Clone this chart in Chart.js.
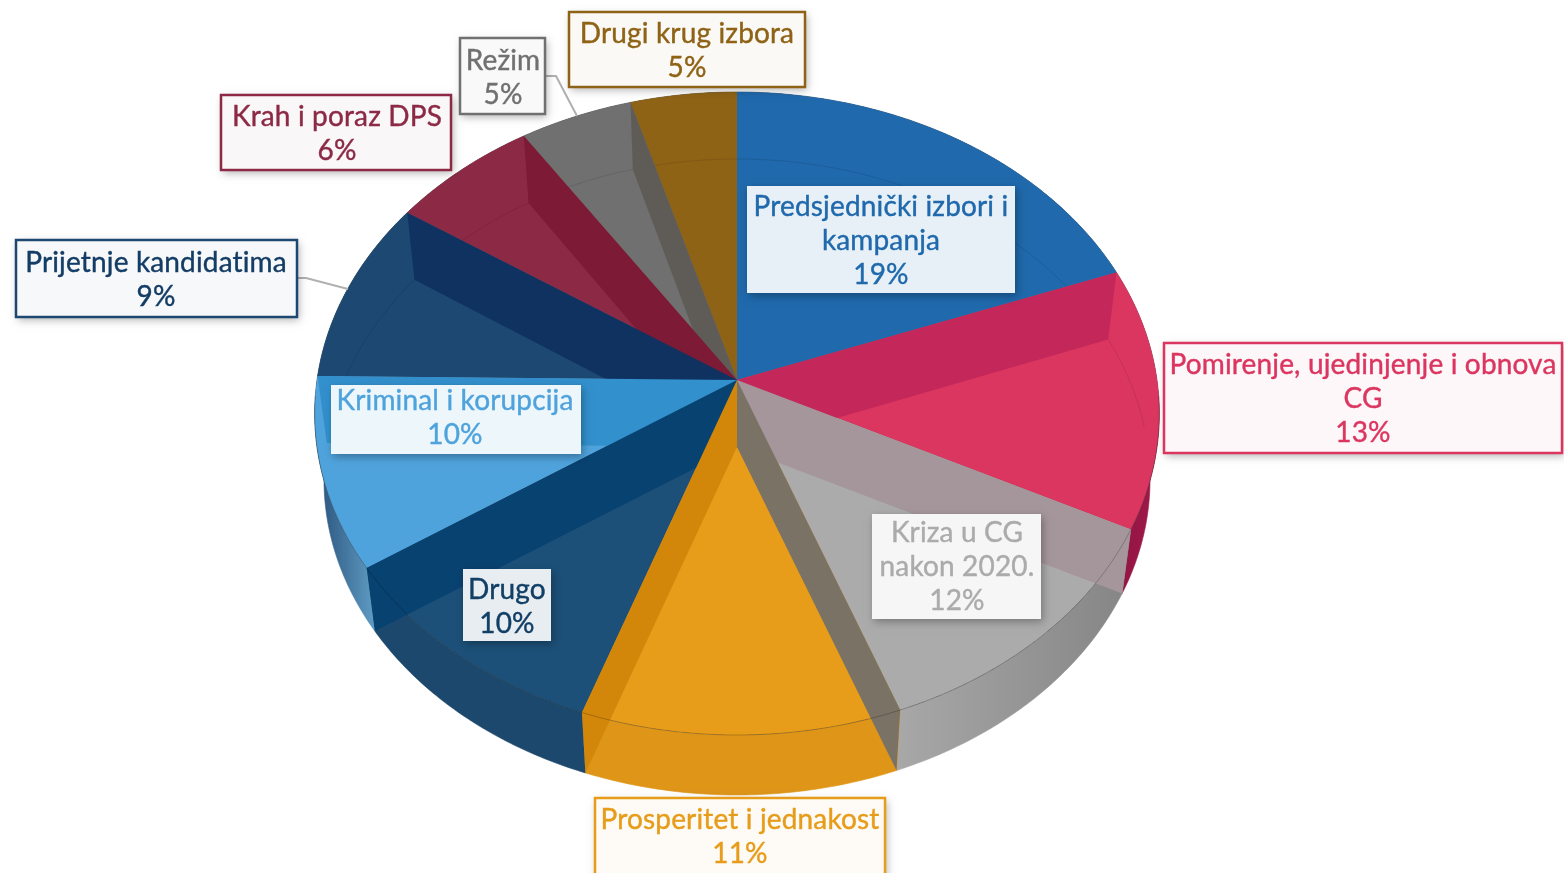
<!DOCTYPE html>
<html>
<head>
<meta charset="utf-8">
<style>html,body{margin:0;padding:0;background:#fff}canvas{display:block}</style>
<script src="https://cdn.jsdelivr.net/npm/chart.js@4/dist/chart.umd.js"></script>
</head>
<body>
<canvas id="c" width="1564" height="873"></canvas>
<script>
// ---- data ----
const categories = [
  ['Predsjednički izbori i','kampanja'],
  ['Pomirenje, ujedinjenje i obnova','CG'],
  ['Kriza u CG','nakon 2020.'],
  ['Prosperitet i jednakost'],
  ['Drugo'],
  ['Kriminal i korupcija'],
  ['Prijetnje kandidatima'],
  ['Krah i poraz DPS'],
  ['Režim'],
  ['Drugi krug izbora']
];
const shares = [19.3, 13.1, 11.9, 11.1, 10.2, 9.6, 9.2, 6.3, 4.8, 4.5];

// ---- styles ----
const faceColors = ['#1f69ac','#db3660','#ababab','#e79c1a','#1c5078','#4fa3dc','#1c4871','#8c2a46','#707070','#8f6316'];
const textColors = ['#1f69ac','#db3660','#ababab','#e79c1a','#123f66','#4fa3dc','#143d66','#8c2a46','#707070','#8f6316'];
const rimColors = [['#174f85','#174f85'],['#8f1240','#a01a4a'],['#a8a8a8','#858585'],['#de9518','#de9518'],['#1b486c','#1b486c'],['#274f78','#5f9cc4'],['#143a5e','#143a5e'],['#6f1f36','#6f1f36'],['#555','#555'],['#6f4d10','#6f4d10']];
// wall seen through the face, at the start edge of slice i
const wallColors = [null,'#c4275a','#a5969b','#7a7365','#d2870a','#084270','#3290cd','#0f3260','#7d1a36','#5f5c58'];
const wallOrder = [1,9,8,7,2,6,5,3,4];

// ---- layout ----
const G = {cx:737, cy:380, A:420, B:318, k:0.1042, depth:67, front:7, sx:0.978};
const boxes = [
  {x:747,y:186,w:268,h:107,cx:881,ly:[207,241,275],t:.1,b:0},
  {x:1164,y:343,w:398,h:110,cx:1363,ly:[365,399,433],t:.04,b:1},
  {x:872,y:514,w:169,h:105,cx:957,ly:[533,567,601],t:.1,b:0},
  {x:595,y:798,w:290,h:85,cx:740,ly:[820,854],t:.04,b:1},
  {x:463,y:569,w:88,h:72,cx:507,ly:[590,624],t:.1,b:0},
  {x:331,y:385,w:250,h:69,cx:455,ly:[401,435],t:.1,b:0},
  {x:16,y:240,w:281,h:77,cx:156,ly:[263,297],t:.04,b:1},
  {x:221,y:95,w:230,h:75,cx:337,ly:[117,151],t:.04,b:1},
  {x:460,y:38,w:85,h:76,cx:503,ly:[61,95],t:.04,b:1},
  {x:569,y:12,w:236,h:75,cx:687,ly:[34,68],t:.04,b:1}
];
const leaders = [
  {i:6,pts:[[297,278],[306,278],[348,289]]},
  {i:8,pts:[[545,76],[556,76],[577,116]]}
];

function topPt(a){
  const u=Math.cos(a),v=Math.sin(a),w=1-G.k*v;
  return [G.cx+G.A*u/w, G.cy+G.B*v/w];
}
function botPt(a){
  const p=topPt(a),v=Math.sin(a);
  return [G.cx+(p[0]-G.cx)*G.sx, p[1]+G.depth-G.front*Math.max(v,0)];
}
function samples(a0,a1){
  const n=Math.max(2,Math.ceil(Math.abs(a1-a0)/0.01)),out=[];
  for(let i=0;i<=n;i++) out.push(a0+(a1-a0)*i/n);
  return out;
}
// slice faces: the pie's own arcs, seen in perspective
Chart.ArcElement.prototype.draw=function(ctx){
  const {startAngle,endAngle}=this.getProps(['startAngle','endAngle']);
  ctx.save();
  ctx.beginPath();
  ctx.moveTo(G.cx,G.cy);
  samples(startAngle,endAngle).forEach(a=>{const p=topPt(a);ctx.lineTo(p[0],p[1]);});
  ctx.closePath();
  ctx.fillStyle=this.options.backgroundColor;
  ctx.fill();
  ctx.restore();
};

const pie3d={
  id:'pie3d',
  beforeDatasetsDraw(chart){
    const ctx=chart.ctx,arcs=chart.getDatasetMeta(0).data;
    arcs.forEach((el,i)=>{
      const s=samples(el.startAngle,el.endAngle);
      const t=s.map(topPt),b=s.map(botPt).reverse();
      const poly=t.concat(b);
      const xs=poly.map(p=>p[0]);
      const g=ctx.createLinearGradient(Math.min(...xs),0,Math.max(...xs),0);
      g.addColorStop(0,rimColors[i][0]);g.addColorStop(1,rimColors[i][1]);
      ctx.beginPath();
      poly.forEach((p,j)=>j?ctx.lineTo(p[0],p[1]):ctx.moveTo(p[0],p[1]));
      ctx.closePath();
      ctx.fillStyle=g;ctx.strokeStyle=g;ctx.lineWidth=.6;
      ctx.fill();ctx.stroke();
    });
    ctx.beginPath();
    samples(0,Math.PI*2).forEach((a,j)=>{const p=topPt(a);j?ctx.lineTo(p[0],p[1]):ctx.moveTo(p[0],p[1]);});
    ctx.closePath();
    ctx.fillStyle='#6a6a6a';ctx.fill();
  },
  afterDatasetsDraw(chart){
    const ctx=chart.ctx,arcs=chart.getDatasetMeta(0).data;
    // faint arc of the floor, seen through the faces
    ctx.save();
    ctx.beginPath();
    samples(Math.PI*1.02,Math.PI*1.98).forEach((a,j)=>{const p=botPt(a);j?ctx.lineTo(p[0],p[1]):ctx.moveTo(p[0],p[1]);});
    ctx.strokeStyle='rgba(0,0,0,.10)';ctx.lineWidth=1;ctx.stroke();
    ctx.restore();
    // inner walls
    wallOrder.forEach(i=>{
      const a=arcs[i].startAngle,t=topPt(a),b=botPt(a);
      ctx.beginPath();
      ctx.moveTo(G.cx,G.cy);ctx.lineTo(t[0],t[1]);ctx.lineTo(b[0],b[1]);ctx.lineTo(G.cx,G.cy+G.depth);ctx.closePath();
      ctx.fillStyle=wallColors[i];ctx.fill();
    });
    // front edge of the top surface
    ctx.save();
    arcs.forEach((el,i)=>{
      const a0=Math.max(el.startAngle,0.05),a1=Math.min(el.endAngle,Math.PI-.05);
      if(a1<=a0)return;
      ctx.beginPath();
      samples(a0,a1).forEach((a,j)=>{const p=topPt(a);j?ctx.lineTo(p[0],p[1]):ctx.moveTo(p[0],p[1]);});
      ctx.strokeStyle='rgba(0,0,0,.22)';ctx.lineWidth=1;ctx.stroke();
    });
    ctx.restore();
    // leader lines
    leaders.forEach(l=>{
      ctx.beginPath();
      l.pts.forEach((p,j)=>j?ctx.lineTo(p[0],p[1]):ctx.moveTo(p[0],p[1]));
      ctx.strokeStyle='#b0b0b0';ctx.lineWidth=2;ctx.stroke();
    });
    // data labels
    const values=chart.data.datasets[0].data;
    chart.data.labels.forEach((lines,i)=>{
      const B=boxes[i],col=faceColors[i];
      ctx.save();
      ctx.shadowColor='rgba(0,0,0,.3)';ctx.shadowBlur=8;ctx.shadowOffsetX=2;ctx.shadowOffsetY=3;
      ctx.fillStyle='#fff';ctx.fillRect(B.x,B.y,B.w,B.h);
      ctx.restore();
      ctx.save();
      ctx.globalAlpha=B.t;ctx.fillStyle=col;ctx.fillRect(B.x,B.y,B.w,B.h);
      ctx.restore();
      if(B.b){ctx.strokeStyle=col;ctx.lineWidth=2.5;ctx.strokeRect(B.x,B.y,B.w,B.h);}
      ctx.save();
      ctx.font='28px Lato';
      ctx.letterSpacing='0.15px';
      ctx.textAlign='center';ctx.textBaseline='middle';ctx.fillStyle=textColors[i];
      ctx.strokeStyle=textColors[i];ctx.lineWidth=.4;
      const all=lines.concat([Math.round(values[i])+'%']);
      all.forEach((s,j)=>{ctx.fillText(s,B.cx,B.ly[j]);ctx.strokeText(s,B.cx,B.ly[j]);});
      ctx.restore();
    });
  }
};

new Chart(document.getElementById('c'),{
  type:'pie',
  data:{labels:categories,datasets:[{data:shares,backgroundColor:faceColors,borderWidth:0}]},
  options:{
    responsive:false,animation:false,
    plugins:{legend:{display:false},tooltip:{enabled:false}}
  },
  plugins:[pie3d]
});
</script>
</body>
</html>
